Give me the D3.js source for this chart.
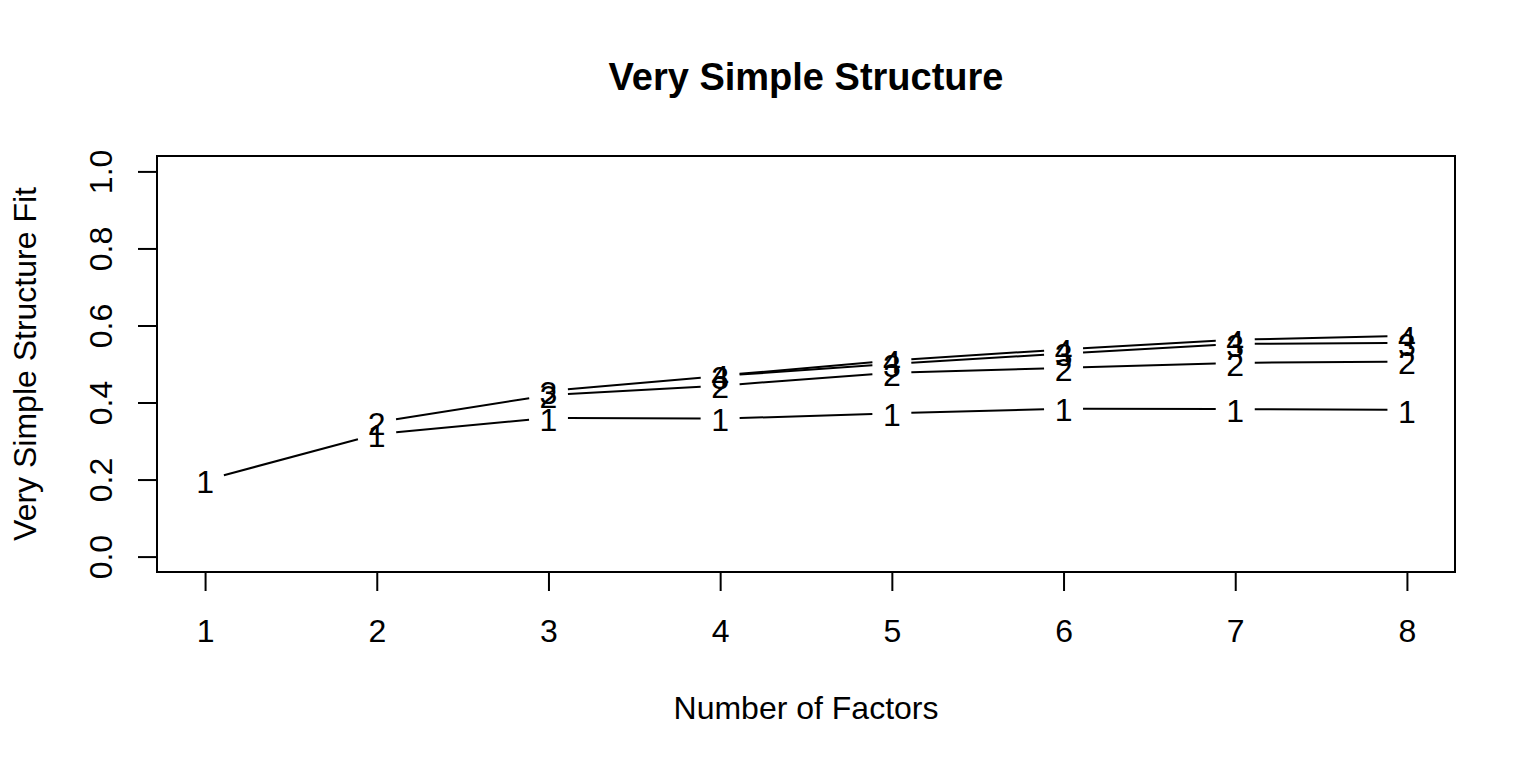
<!DOCTYPE html>
<html>
<head>
<meta charset="utf-8">
<script src="https://cdn.jsdelivr.net/npm/d3@7"></script>
<style>
  body { margin: 0; background: #fff; }
  svg text { font-family: "Liberation Sans", Arial, sans-serif; fill: #000; }
</style>
</head>
<body>
<div id="viz"></div>
<script>
(function() {
  var factors = [1, 2, 3, 4, 5, 6, 7, 8];
  // VSS fit by complexity; null where complexity > number of factors
  var fit1 = [0.198, 0.318, 0.360, 0.358, 0.372, 0.384, 0.383, 0.381];
  var fit2 = [null, 0.349, 0.419, 0.444, 0.477, 0.490, 0.503, 0.506];
  var fit3 = [null, null, 0.430, 0.469, 0.500, 0.527, 0.552, 0.555];
  var fit4 = [null, null, null, 0.470, 0.509, 0.538, 0.563, 0.573];
  var series = [fit1, fit2, fit3, fit4];
  var xTicks = [1, 2, 3, 4, 5, 6, 7, 8];
  var yTicks = [0, 0.2, 0.4, 0.6, 0.8, 1.0];

  var W = 1536, H = 768;
  var left = 157, right = 1455, top = 156, bottom = 572;
  var fs = 32, gap = 19.5;

  var svg = d3.select("#viz").append("svg").attr("width", W).attr("height", H);

  // R style 4% expansion of the data range
  var x = d3.scaleLinear().domain([1 - 0.28, 8 + 0.28]).range([left, right]);
  var y = d3.scaleLinear().domain([-0.04, 1.04]).range([bottom, top]);

  // series: line segments with gaps, then digit labels (type = "b")
  series.forEach(function(vals, i) {
    var pts = [];
    vals.forEach(function(v, j) {
      if (v !== null) pts.push([x(factors[j]), y(v)]);
    });
    for (var k = 0; k < pts.length - 1; k++) {
      var p = pts[k], q = pts[k + 1];
      var dx = q[0] - p[0], dy = q[1] - p[1], d = Math.sqrt(dx * dx + dy * dy);
      if (d <= 2 * gap) continue;
      var ux = dx / d, uy = dy / d;
      svg.append("line")
        .attr("x1", p[0] + ux * gap).attr("y1", p[1] + uy * gap)
        .attr("x2", q[0] - ux * gap).attr("y2", q[1] - uy * gap)
        .attr("stroke", "#000").attr("stroke-width", 2);
    }
    svg.append("g").selectAll("text").data(pts).enter().append("text")
      .attr("x", function(d) { return d[0]; })
      .attr("y", function(d) { return d[1]; })
      .attr("dy", "0.4em")
      .attr("text-anchor", "middle")
      .style("font-size", fs + "px")
      .text(i + 1);
  });

  // box
  svg.append("rect")
    .attr("x", left).attr("y", top)
    .attr("width", right - left).attr("height", bottom - top)
    .attr("fill", "none").attr("stroke", "#000").attr("stroke-width", 2);

  // x axis
  var gx = svg.append("g").attr("transform", "translate(0," + bottom + ")")
    .call(d3.axisBottom(x).tickValues(xTicks).tickSize(19).tickFormat(d3.format("d")));
  gx.select(".domain").remove();
  gx.selectAll("line").attr("stroke-width", 2);
  gx.selectAll("text").attr("y", 70).attr("dy", null).style("font-size", fs + "px");

  // y axis
  var gy = svg.append("g").attr("transform", "translate(" + left + ",0)")
    .call(d3.axisLeft(y).tickValues(yTicks).tickSize(19).tickFormat(d3.format(".1f")));
  gy.select(".domain").remove();
  gy.selectAll("line").attr("stroke-width", 2);
  gy.selectAll("text")
    .attr("transform", "rotate(-90)")
    .attr("x", 0).attr("y", -45).attr("dy", null)
    .attr("text-anchor", "middle")
    .style("font-size", fs + "px");

  // titles
  svg.append("text")
    .attr("x", (left + right) / 2).attr("y", 90)
    .attr("text-anchor", "middle")
    .style("font-size", "38px").style("font-weight", "bold")
    .text("Very Simple Structure");

  svg.append("text")
    .attr("x", (left + right) / 2).attr("y", 719)
    .attr("text-anchor", "middle")
    .style("font-size", fs + "px")
    .text("Number of Factors");

  svg.append("text")
    .attr("transform", "translate(36," + (top + bottom) / 2 + ") rotate(-90)")
    .attr("text-anchor", "middle")
    .style("font-size", fs + "px")
    .text("Very Simple Structure Fit");
})();
</script>
</body>
</html>
